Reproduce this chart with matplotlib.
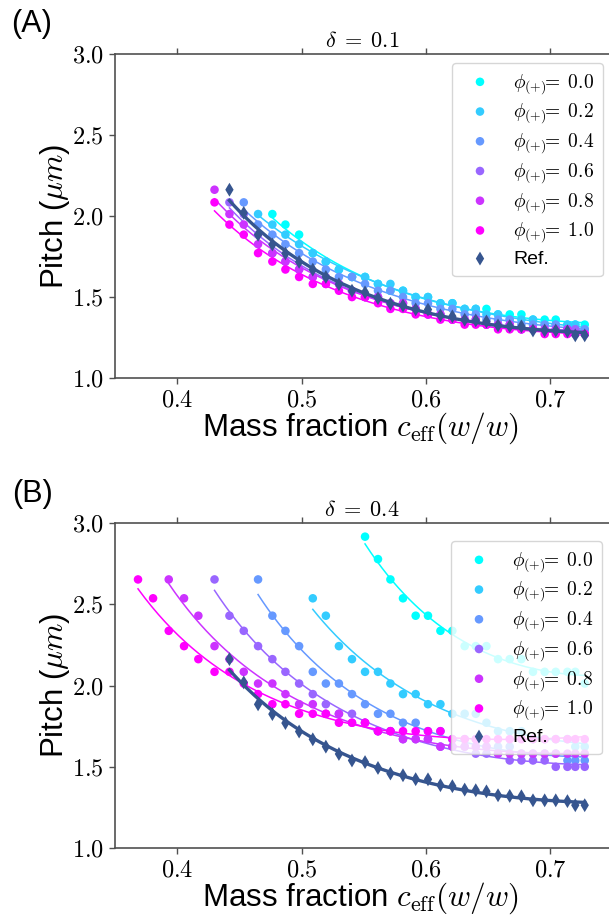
import numpy as np
import matplotlib
matplotlib.use("Agg")
import matplotlib.pyplot as plt

plt.rcParams['font.family'] = ['Liberation Sans', 'DejaVu Sans']
plt.rcParams['mathtext.fontset'] = 'cm'

# ---------------- data ----------------
c_grid = [0.3685, 0.3806, 0.3932, 0.4055, 0.4170, 0.4300, 0.4420, 0.4535, 0.4650,
          0.4765, 0.4870, 0.4980, 0.5090, 0.5195, 0.5300, 0.5405, 0.5510, 0.5614,
          0.5714, 0.5815, 0.5917, 0.6016, 0.6116, 0.6212, 0.6311, 0.6400, 0.6486,
          0.6579, 0.6673, 0.6767, 0.6860, 0.6954, 0.7043, 0.7137, 0.7200, 0.7276]

phi_values = [0.0, 0.2, 0.4, 0.6, 0.8, 1.0]
phi_labels = ['0.0', '0.2', '0.4', '0.6', '0.8', '1.0']

pitch_ref = [2.163, 2.020, 1.885, 1.825, 1.770, 1.718, 1.670, 1.625, 1.580, 1.540,
             1.530, 1.494, 1.460, 1.449, 1.425, 1.424, 1.388, 1.382, 1.361, 1.357,
             1.350, 1.326, 1.322, 1.320, 1.295, 1.295, 1.295, 1.290, 1.265, 1.265]

# panel A, delta = 0.1
pitchA_00 = [2.013, 1.948, 1.886, 1.772, 1.720, 1.671, 1.625, 1.625, 1.582, 1.540,
             1.540, 1.501, 1.501, 1.463, 1.463, 1.428, 1.428, 1.428, 1.394, 1.394,
             1.394, 1.362, 1.362, 1.362, 1.331, 1.331, 1.331]
pitchA_02 = [2.013, 1.948, 1.886, 1.827, 1.772, 1.720, 1.671, 1.625, 1.625, 1.582,
             1.582, 1.540, 1.501, 1.501, 1.463, 1.463, 1.428, 1.428, 1.394, 1.394,
             1.362, 1.362, 1.362, 1.331, 1.331, 1.331, 1.331, 1.302]
pitchA_04 = [2.085, 1.948, 1.886, 1.827, 1.772, 1.720, 1.671, 1.625, 1.625, 1.582,
             1.540, 1.540, 1.501, 1.463, 1.463, 1.428, 1.428, 1.394, 1.394, 1.362,
             1.362, 1.362, 1.331, 1.331, 1.331, 1.331, 1.302, 1.302, 1.302]
pitchA_06 = [2.085, 2.013, 1.886, 1.772, 1.720, 1.671, 1.625, 1.625, 1.582, 1.540,
             1.501, 1.501, 1.463, 1.463, 1.428, 1.394, 1.394, 1.362, 1.362, 1.362,
             1.331, 1.331, 1.331, 1.302, 1.302, 1.302, 1.302, 1.302, 1.302, 1.273]
pitchA_08 = [2.163, 2.013, 1.948, 1.827, 1.772, 1.720, 1.671, 1.625, 1.582, 1.582,
             1.540, 1.501, 1.501, 1.463, 1.463, 1.428, 1.394, 1.394, 1.362, 1.362,
             1.362, 1.331, 1.331, 1.331, 1.302, 1.302, 1.302, 1.302, 1.302, 1.273, 1.273]
pitchA_10 = [2.085, 1.948, 1.886, 1.772, 1.720, 1.671, 1.625, 1.582, 1.582, 1.540,
             1.501, 1.501, 1.463, 1.428, 1.428, 1.394, 1.394, 1.362, 1.362, 1.331,
             1.331, 1.331, 1.302, 1.302, 1.302, 1.302, 1.273, 1.273, 1.273, 1.273, 1.273]

# panel B, delta = 0.4
pitchB_00 = [2.916, 2.778, 2.653, 2.537, 2.430, 2.430, 2.337, 2.337, 2.243, 2.243,
             2.243, 2.163, 2.163, 2.163, 2.085, 2.085, 2.085, 2.085, 2.085, 2.013]
pitchB_02 = [2.537, 2.430, 2.243, 2.163, 2.085, 2.085, 2.013, 1.948, 1.948, 1.886,
             1.886, 1.827, 1.827, 1.827, 1.772, 1.720, 1.720, 1.720, 1.671, 1.671,
             1.671, 1.671, 1.625, 1.625]
pitchB_04 = [2.653, 2.430, 2.337, 2.243, 2.085, 2.013, 2.013, 1.948, 1.886, 1.827,
             1.827, 1.772, 1.772, 1.720, 1.720, 1.671, 1.671, 1.671, 1.625, 1.625,
             1.625, 1.582, 1.582, 1.582, 1.582, 1.540, 1.540, 1.540]
pitchB_06 = [2.653, 2.430, 2.337, 2.243, 2.163, 2.085, 2.013, 1.948, 1.886, 1.827,
             1.827, 1.772, 1.720, 1.720, 1.671, 1.671, 1.671, 1.625, 1.625, 1.625,
             1.582, 1.582, 1.582, 1.540, 1.540, 1.540, 1.540, 1.501, 1.501, 1.501, 1.501]
pitchB_08 = [2.653, 2.537, 2.430, 2.243, 2.163, 2.085, 2.013, 2.013, 1.948, 1.886,
             1.886, 1.827, 1.827, 1.772, 1.772, 1.720, 1.720, 1.671, 1.671, 1.671,
             1.625, 1.625, 1.625, 1.625, 1.625, 1.582, 1.582, 1.582, 1.582, 1.582,
             1.582, 1.582, 1.582, 1.582]
pitchB_10 = [2.653, 2.537, 2.337, 2.243, 2.163, 2.085, 2.085, 2.013, 1.948, 1.886,
             1.886, 1.827, 1.827, 1.827, 1.772, 1.772, 1.772, 1.720, 1.720, 1.720,
             1.720, 1.720, 1.720, 1.671, 1.671, 1.671, 1.671, 1.671, 1.671, 1.671,
             1.671, 1.671, 1.671, 1.671, 1.671, 1.671]

panels = [
    dict(tag='(A)', delta=r'$\delta\;=\;0.1$',
         series=[pitchA_00, pitchA_02, pitchA_04, pitchA_06, pitchA_08, pitchA_10]),
    dict(tag='(B)', delta=r'$\delta\;=\;0.4$',
         series=[pitchB_00, pitchB_02, pitchB_04, pitchB_06, pitchB_08, pitchB_10]),
]

x_ticks = [0.4, 0.5, 0.6, 0.7]
y_ticks = [1.0, 1.5, 2.0, 2.5, 3.0]
ref_color = '#36558f'
spine_color = '#505050'

grid = np.array(c_grid)


def xs_for(vals):
    return grid[len(grid) - len(vals):]


def fit_curve(x, y):
    coef = np.polyfit(np.log(x), np.log(y), 2)
    xf = np.linspace(x.min(), x.max(), 200)
    return xf, np.exp(np.polyval(coef, np.log(xf)))


W, H = 609, 917
fig = plt.figure(figsize=(W / 100, H / 100), dpi=100)

ax_px = [(54, 378.3), (523, 848.3)]   # top / bottom pixel rows of each axes
left_px, right_px = 115, 625
legend_px = [(603, 63), (602, 541)]
tag_px = [(32, 24), (32, 494)]

for p, (top, bot), (lx, ly), (tx, ty) in zip(panels, ax_px, legend_px, tag_px):
    ax = fig.add_axes([left_px / W, 1 - bot / H, (right_px - left_px) / W, (bot - top) / H])
    ax.set_xlim(0.35, 0.35 + (right_px - left_px) / 1244)
    ax.set_ylim(1.0, 3.0)

    for phi, lab, vals in zip(phi_values, phi_labels, p['series']):
        col = plt.cm.cool(phi)
        x = xs_for(vals)
        y = np.array(vals)
        xf, yf = fit_curve(x, y)
        ax.plot(xf, yf, color=col, lw=1.1, zorder=2)
        ax.scatter(x, y, s=38, color=col, edgecolors='none', zorder=3,
                   label=r'$\phi_{(+)}\!\!=\;' + lab + r'$')

    xr = xs_for(pitch_ref)
    yr = np.array(pitch_ref)
    xf, yf = fit_curve(xr, yr)
    ax.plot(xf, yf, color=ref_color, lw=2.4, zorder=4)
    ax.scatter(xr, yr, marker='d', s=50, color=ref_color, edgecolors='none',
               zorder=5, label='Ref.')

    ax.set_xticks(x_ticks)
    ax.set_xticklabels([r'$%.1f$' % v for v in x_ticks])
    ax.set_yticks(y_ticks)
    ax.set_yticklabels([r'$%.1f$' % v for v in y_ticks])
    ax.tick_params(axis='x', which='both', top=True, direction='out', length=4,
                   width=1, color=spine_color, labelsize=17.5, pad=4)
    ax.tick_params(axis='y', which='both', right=False, direction='out', length=4,
                   width=1, color=spine_color, labelsize=17.5, pad=4)
    for s in ['left', 'bottom', 'top']:
        ax.spines[s].set_color(spine_color)
        ax.spines[s].set_linewidth(1.2)
    ax.spines['right'].set_visible(False)

    ax.set_title(p['delta'], fontsize=16, x=(362 - left_px) / (right_px - left_px), pad=5)
    ax.set_xlabel(r'Mass fraction $c_{\rm eff}(w/w)$', fontsize=22.5)
    ax.xaxis.set_label_coords((360 - left_px) / (right_px - left_px), -0.098)
    ax.set_ylabel(r'Pitch ($\mu m$)', fontsize=22.5)
    ax.yaxis.set_label_coords(-0.084, 0.5)

    leg = ax.legend(loc='upper right', bbox_to_anchor=(lx / W, 1 - ly / H),
                    bbox_transform=fig.transFigure, borderaxespad=0,
                    fontsize=14, scatterpoints=1, markerscale=1.0,
                    labelspacing=0.3, handlelength=2.0, handletextpad=0.7,
                    borderpad=0.45, framealpha=0.8, edgecolor='#cccccc', fancybox=True)
    leg.set_zorder(10)

    fig.text(tx / W, 1 - ty / H, p['tag'], fontsize=22, ha='center', va='center')

fig.savefig('out.png', dpi=100)
